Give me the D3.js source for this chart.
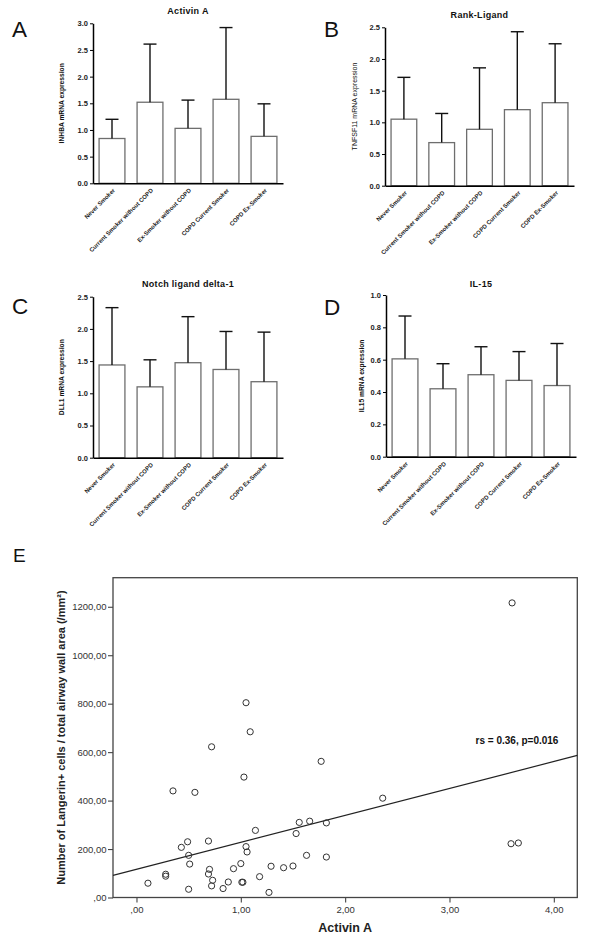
<!DOCTYPE html>
<html>
<head>
<meta charset="utf-8">
<script src="https://cdn.jsdelivr.net/npm/d3@7"></script>
<style>
  body { margin: 0; background: #fff; }
  svg { display: block; font-family: "Liberation Sans", Arial, sans-serif; }
</style>
</head>
<body>
<script>
// ---------------- DATA ----------------
const categories = ["Never Smoker", "Current Smoker without COPD", "Ex-Smoker without COPD", "COPD Current Smoker", "COPD Ex-Smoker"];

// Panel A: Activin A (INHBA)
const activinMean  = [0.84, 1.52, 1.03, 1.575, 0.88];
const activinUpper = [1.20, 2.61, 1.56, 2.92, 1.49];
const activinTicks = [0, 0.5, 1.0, 1.5, 2.0, 2.5, 3.0];

// Panel B: Rank-Ligand (TNFSF11)
const rankMean  = [1.05, 0.68, 0.89, 1.20, 1.31];
const rankUpper = [1.71, 1.14, 1.86, 2.43, 2.24];
const rankTicks = [0, 0.5, 1.0, 1.5, 2.0, 2.5];

// Panel C: Notch ligand delta-1 (DLL1)
const dllMean  = [1.44, 1.10, 1.475, 1.37, 1.18];
const dllUpper = [2.33, 1.52, 2.19, 1.96, 1.95];
const dllTicks = [0, 0.5, 1.0, 1.5, 2.0, 2.5];

// Panel D: IL-15
const il15Mean  = [0.605, 0.42, 0.507, 0.472, 0.44];
const il15Upper = [0.87, 0.575, 0.68, 0.65, 0.70];
const il15Ticks = [0, 0.2, 0.4, 0.6, 0.8, 1.0];

// Panel E: scatter Activin A vs Langerin+ cells
const scatterX = [0.11, 0.28, 0.28, 0.35, 0.43, 0.49, 0.50, 0.51, 0.50, 0.56,
                  0.69, 0.72, 0.69, 0.70, 0.73, 0.72, 0.83, 0.88, 0.93, 1.00,
                  1.01, 1.02, 1.03, 1.05, 1.05, 1.06, 1.09, 1.14, 1.18, 1.27,
                  1.29, 1.41, 1.50, 1.53, 1.56, 1.63, 1.66, 1.77, 1.82, 1.82,
                  2.36, 3.59, 3.66, 3.60];
const scatterY = [59, 96, 88, 440, 207, 230, 174, 138, 34, 434,
                  233, 622, 97, 116, 71, 48, 37, 64, 119, 140,
                  63, 63, 497, 804, 210, 188, 684, 277, 86, 21,
                  129, 123, 130, 264, 310, 174, 315, 562, 308, 167,
                  410, 222, 225, 1216];
const scatterXTicks = [0, 1, 2, 3, 4];
const scatterYTicks = [0, 200, 400, 600, 800, 1000, 1200];
const fitIntercept = 116.6;
const fitSlope = 111.2;
const fitLabel = "rs = 0.36, p=0.016";

// ---------------- DRAWING ----------------
const W = 600, H = 943;
const svg = d3.select("body").append("svg").attr("width", W).attr("height", H);

function barPanel(p) {
  const g = svg.append("g");
  const x = d3.scaleBand().domain(categories).range([p.left, p.right])
    .paddingInner(0.32).paddingOuter(0.16);
  const y = d3.scaleLinear().domain([0, p.yMax]).range([p.bottom, p.top]);

  // bars
  g.selectAll("rect.bar").data(categories).join("rect")
    .attr("class", "bar")
    .attr("x", d => x(d)).attr("width", x.bandwidth())
    .attr("y", (d, i) => y(p.mean[i]))
    .attr("height", (d, i) => y(0) - y(p.mean[i]))
    .attr("fill", "#fff").attr("stroke", "#6e6e6e").attr("stroke-width", 1.3);

  // error bars (upper only)
  const cx = d => x(d) + x.bandwidth() / 2;
  g.selectAll("line.err").data(categories).join("line")
    .attr("class", "err")
    .attr("x1", cx).attr("x2", cx)
    .attr("y1", (d, i) => y(p.mean[i])).attr("y2", (d, i) => y(p.upper[i]))
    .attr("stroke", "#111").attr("stroke-width", 1.4);
  g.selectAll("line.cap").data(categories).join("line")
    .attr("class", "cap")
    .attr("x1", d => cx(d) - 6.5).attr("x2", d => cx(d) + 6.5)
    .attr("y1", (d, i) => y(p.upper[i])).attr("y2", (d, i) => y(p.upper[i]))
    .attr("stroke", "#111").attr("stroke-width", 1.4);

  // y axis
  const ya = g.append("g").attr("transform", `translate(${p.left},0)`)
    .call(d3.axisLeft(y).tickValues(p.ticks).tickSize(3).tickSizeOuter(0).tickPadding(2)
      .tickFormat(d3.format(".1f")));
  ya.select(".domain").attr("stroke", "#000").attr("stroke-width", 1.5);
  ya.selectAll(".tick line").attr("stroke", "#000").attr("stroke-width", 1);
  ya.selectAll(".tick text").attr("font-size", 7.5).attr("font-weight", "bold")
    .attr("fill", "#222").attr("font-family", "Liberation Sans, Arial, sans-serif");

  // x axis
  const xa = g.append("g").attr("transform", `translate(0,${p.bottom})`)
    .call(d3.axisBottom(x).tickSize(0).tickSizeOuter(0));
  xa.select(".domain").attr("stroke", "#000").attr("stroke-width", 1.5);
  xa.selectAll(".tick text")
    .attr("text-anchor", "end")
    .attr("x", 0).attr("y", 0).attr("dy", "0.35em")
    .attr("transform", "translate(2,6) rotate(-45)")
    .attr("font-size", 6).attr("font-weight", "bold").attr("fill", "#222")
    .attr("font-family", "Liberation Sans, Arial, sans-serif");

  // title
  g.append("text").attr("x", (p.left + p.right) / 2).attr("y", p.titleY)
    .attr("text-anchor", "middle").attr("font-size", 9).attr("font-weight", "bold")
    .attr("letter-spacing", 0.3).attr("fill", "#111").text(p.title);

  // y label
  g.append("text")
    .attr("transform", `translate(${p.ylabelX},${(p.top + p.bottom) / 2}) rotate(-90)`)
    .attr("text-anchor", "middle").attr("font-size", p.ylabelBold ? 6.7 : 7)
    .attr("font-weight", p.ylabelBold ? "bold" : "normal")
    .attr("fill", "#111").text(p.ylabel);

  // panel letter
  g.append("text").attr("x", p.letterX).attr("y", p.letterY)
    .attr("font-size", 22.5).attr("fill", "#111").text(p.letter);
}

barPanel({ left: 93, right: 283, top: 23.3, bottom: 183.3, yMax: 3.0,
  mean: activinMean, upper: activinUpper, ticks: activinTicks,
  title: "Activin A", titleY: 14, ylabel: "INHBA mRNA expression", ylabelBold: true, ylabelX: 64,
  letter: "A", letterX: 12, letterY: 36.7 });

barPanel({ left: 385, right: 574, top: 27.3, bottom: 185.7, yMax: 2.5,
  mean: rankMean, upper: rankUpper, ticks: rankTicks,
  title: "Rank-Ligand", titleY: 18, ylabel: "TNFSF11 mRNA expression", ylabelBold: false, ylabelX: 357,
  letter: "B", letterX: 324, letterY: 36.5 });

barPanel({ left: 93, right: 283, top: 296.7, bottom: 457.7, yMax: 2.5,
  mean: dllMean, upper: dllUpper, ticks: dllTicks,
  title: "Notch ligand delta-1", titleY: 287, ylabel: "DLL1 mRNA expression", ylabelBold: true, ylabelX: 64,
  letter: "C", letterX: 12, letterY: 314 });

barPanel({ left: 386, right: 576, top: 295, bottom: 456.7, yMax: 1.0,
  mean: il15Mean, upper: il15Upper, ticks: il15Ticks,
  title: "IL-15", titleY: 287, ylabel: "IL15 mRNA expression", ylabelBold: true, ylabelX: 364,
  letter: "D", letterX: 324, letterY: 315.3 });

// ---------------- PANEL E ----------------
(function () {
  const left = 113, right = 577.3, top = 577.7, bottom = 897.5;
  const g = svg.append("g");
  const x = d3.scaleLinear().domain([-0.225, 4.225]).range([left, right]);
  const y = d3.scaleLinear().domain([0, 1320]).range([bottom, top]);
  const fmt = v => (v === 0 ? "" : String(v)) + ",00";

  const ya = g.append("g").attr("transform", `translate(${left},0)`)
    .call(d3.axisLeft(y).tickValues(scatterYTicks).tickSize(5).tickSizeOuter(0).tickPadding(1.5).tickFormat(fmt));
  const xa = g.append("g").attr("transform", `translate(0,${bottom})`)
    .call(d3.axisBottom(x).tickValues(scatterXTicks).tickSize(5).tickSizeOuter(0).tickPadding(4).tickFormat(fmt));
  [ya, xa].forEach(a => {
    a.select(".domain").remove();
    a.selectAll(".tick line").attr("stroke", "#444").attr("stroke-width", 1.1);
    a.selectAll(".tick text").attr("font-size", 9.5).attr("fill", "#333")
      .attr("font-family", "Liberation Sans, Arial, sans-serif");
  });

  g.append("rect").attr("x", left).attr("y", top)
    .attr("width", right - left).attr("height", bottom - top)
    .attr("fill", "none").attr("stroke", "#444").attr("stroke-width", 1.3);

  // fit line
  const xd = x.domain();
  g.append("line")
    .attr("x1", x(xd[0])).attr("y1", y(fitIntercept + fitSlope * xd[0]))
    .attr("x2", x(xd[1])).attr("y2", y(fitIntercept + fitSlope * xd[1]))
    .attr("stroke", "#222").attr("stroke-width", 1.2);

  // points
  g.selectAll("circle").data(scatterX).join("circle")
    .attr("cx", d => x(d)).attr("cy", (d, i) => y(scatterY[i]))
    .attr("r", 3.1).attr("fill", "none").attr("stroke", "#333").attr("stroke-width", 1);

  // annotation
  g.append("text").attr("x", x(3.25)).attr("y", y(633))
    .attr("font-size", 10).attr("font-weight", "bold").attr("fill", "#111").text(fitLabel);

  // axis titles
  g.append("text").attr("x", (left + right) / 2).attr("y", 932)
    .attr("text-anchor", "middle").attr("font-size", 12.5).attr("font-weight", "bold")
    .attr("fill", "#222").text("Activin A");
  g.append("text")
    .attr("transform", `translate(65,${(top + bottom) / 2}) rotate(-90)`)
    .attr("text-anchor", "middle").attr("font-size", 11).attr("font-weight", "bold")
    .attr("fill", "#222").text("Number of Langerin+ cells / total airway wall area (/mm²)");

  // panel letter
  g.append("text").attr("x", 13).attr("y", 562)
    .attr("font-size", 19).attr("fill", "#111").text("E");
})();
</script>
</body>
</html>
